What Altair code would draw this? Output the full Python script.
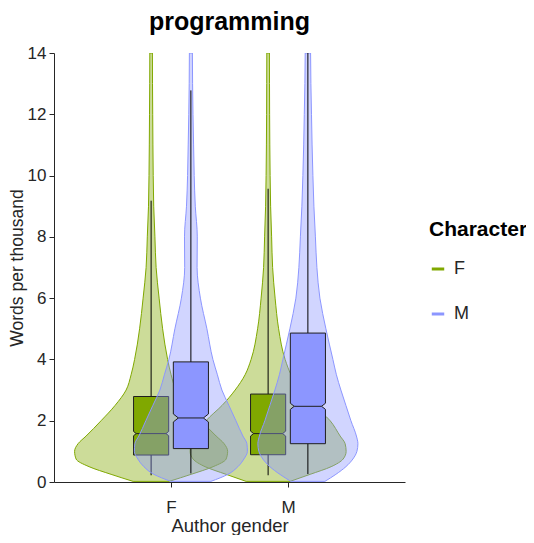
import altair as alt
import pandas as pd

TITLE = "programming"
authors = ["F", "M"]
characters = ["F", "M"]
colors = ["#80A800", "#8C96FF"]

# violin outlines: density at these word rates
y_grid = [0.02, 0.25, 0.5, 0.75, 1.0, 1.25, 1.5, 2.0, 2.5, 3.0, 3.5, 4.0,
          5.0, 6.0, 7.0, 8.0, 9.0, 10.0, 11.0, 12.0, 13.0, 14.0]
dens_f_f = [0.18, 0.40, 0.62, 0.75, 0.765, 0.73, 0.65, 0.50, 0.36, 0.25, 0.20,
            0.165, 0.115, 0.08, 0.05, 0.038, 0.026, 0.021, 0.018, 0.016, 0.014, 0.013]
dens_f_m = [0.20, 0.37, 0.47, 0.53, 0.565, 0.56, 0.52, 0.45, 0.38, 0.31, 0.265,
            0.22, 0.16, 0.095, 0.062, 0.064, 0.044, 0.033, 0.027, 0.021, 0.017, 0.015]
dens_m_f = [0.22, 0.42, 0.63, 0.75, 0.78, 0.77, 0.72, 0.62, 0.46, 0.33, 0.23,
            0.17, 0.105, 0.07, 0.045, 0.035, 0.025, 0.02, 0.017, 0.015, 0.014, 0.013]
dens_m_m = [0.17, 0.28, 0.38, 0.45, 0.49, 0.50, 0.485, 0.43, 0.38, 0.33, 0.285,
            0.25, 0.18, 0.12, 0.09, 0.075, 0.06, 0.05, 0.042, 0.036, 0.03, 0.027]

# box statistics, order (author, character): FF, FM, MF, MM
groups = [("F", "F"), ("F", "M"), ("M", "F"), ("M", "M")]
q1 = [0.88, 1.09, 0.89, 1.25]
median = [1.58, 2.09, 1.58, 2.47]
q3 = [2.79, 3.92, 2.87, 4.86]
whisker_lo = [0.22, 0.28, 0.22, 0.26]
whisker_hi = [9.18, 12.78, 9.57, 14.0]  # last one runs off the top
notch = [0.07, 0.13, 0.08, 0.10]

DODGE = 0.17
BOX_HALF = 0.15
VIOLIN_SCALE = 0.855
NOTCH_SLOPE = 0.33
WIDTH, HEIGHT = 351, 429
FONT = "Liberation Sans"
INK = "#262626"


def _center(author, character):
    return authors.index(author) + 1 + (DODGE if character == "M" else -DODGE)


violin_rows, box_rows, whisker_rows, median_rows = [], [], [], []
densities = [dens_f_f, dens_f_m, dens_m_f, dens_m_m]
for i, (a, c) in enumerate(groups):
    cx = _center(a, c)
    for y, d in zip(y_grid, densities[i]):
        violin_rows.append({"author": a, "character": c, "y": y,
                            "lo": cx - d * VIOLIN_SCALE, "hi": cx + d * VIOLIN_SCALE})
    depth = notch[i] * NOTCH_SLOPE
    outline = [(q1[i], BOX_HALF), (median[i] - notch[i], BOX_HALF),
               (median[i], BOX_HALF - depth), (median[i] + notch[i], BOX_HALF),
               (q3[i], BOX_HALF)]
    for y, hw in outline:
        box_rows.append({"author": a, "character": c, "y": y,
                         "lo": cx - hw, "hi": cx + hw})
    whisker_rows.append({"author": a, "character": c, "x": cx,
                         "lo": whisker_lo[i], "hi": whisker_hi[i]})
    median_rows.append({"author": a, "character": c, "y": median[i],
                        "lo": cx - BOX_HALF + depth, "hi": cx + BOX_HALF - depth})

violins = pd.DataFrame(violin_rows)
boxes = pd.DataFrame(box_rows)
whiskers = pd.DataFrame(whisker_rows)
medians = pd.DataFrame(median_rows)

x_scale = alt.Scale(domain=[0, 3], nice=False, zero=False)
y_scale = alt.Scale(domain=[0, 14], nice=False)
x_axis = alt.Axis(
    values=[1, 2],
    labelExpr=f"{authors}[datum.value - 1]",
    title="Author gender",
    labelPadding=12,
    titlePadding=1,
)
y_axis = alt.Axis(
    values=list(range(0, 15, 2)),
    title="Words per thousand",
    titleFontSize=17.5,
    labelPadding=3,
    titlePadding=1,
)
color_scale = alt.Scale(domain=characters, range=colors)
legend = alt.Legend(
    title="Character",
    orient="none",
    legendX=375,
    legendY=166,
    symbolType="stroke",
    symbolStrokeWidth=3,
    symbolSize=155,
    symbolOpacity=1,
    labelOffset=7,
    rowPadding=27,
    titlePadding=20,
    titleFontSize=21,
    titleFontWeight="bold",
    titleColor="black",
    labelFontSize=18,
    labelColor=INK,
    titleFont=FONT,
    labelFont=FONT,
)

layers = []
for c, col in zip(characters, colors):
    v = alt.Chart(violins[violins.character == c]).mark_area(
        orient="horizontal",
        interpolate="monotone",
        fillOpacity=0.4,
        strokeWidth=1,
        clip=True,
    ).encode(
        y=alt.Y("y:Q", scale=y_scale, axis=y_axis),
        x=alt.X("lo:Q", scale=x_scale, axis=x_axis, stack=None),
        x2="hi:Q",
        fill=alt.Fill("character:N", scale=color_scale, legend=legend),
        stroke=alt.Stroke("character:N", scale=color_scale, legend=legend),
        detail="author:N",
    )
    w = alt.Chart(whiskers[whiskers.character == c]).mark_rule(
        color="black", strokeWidth=1, clip=True
    ).encode(
        x=alt.X("x:Q", scale=x_scale, axis=x_axis),
        y=alt.Y("lo:Q", scale=y_scale, axis=y_axis),
        y2="hi:Q",
    )
    b = alt.Chart(boxes[boxes.character == c]).mark_area(
        orient="horizontal",
        fill=col,
        fillOpacity=1,
        stroke="#1f1f1f",
        strokeWidth=1,
    ).encode(
        y=alt.Y("y:Q", scale=y_scale, axis=y_axis),
        x=alt.X("lo:Q", scale=x_scale, axis=x_axis, stack=None),
        x2="hi:Q",
        detail="author:N",
    )
    m = alt.Chart(medians[medians.character == c]).mark_rule(
        color="#1f1f1f", strokeWidth=1
    ).encode(
        x=alt.X("lo:Q", scale=x_scale, axis=x_axis),
        x2="hi:Q",
        y=alt.Y("y:Q", scale=y_scale, axis=y_axis),
    )
    layers += [v, w, b, m]

# chart title as a text mark centred over the plot area
title = alt.Chart(pd.DataFrame({"t": [TITLE]})).mark_text(
    font=FONT,
    fontSize=25,
    fontWeight="bold",
    color="black",
    align="center",
    baseline="alphabetic",
).encode(
    text="t:N",
    x=alt.value(WIDTH / 2),
    y=alt.value(-23),
)
layers.append(title)

chart = alt.layer(*layers).properties(
    width=WIDTH,
    height=HEIGHT,
    padding={"left": 46, "top": 45, "right": 121, "bottom": 53},
    autosize=alt.AutoSizeParams(type="none"),
).configure_view(
    stroke=None
).configure_axis(
    grid=False,
    domainColor=INK,
    tickColor=INK,
    labelColor=INK,
    titleColor=INK,
    labelFont=FONT,
    titleFont=FONT,
    labelFontSize=17,
    titleFontSize=18.5,
    titleFontWeight="normal",
    tickSize=5,
)

chart.save("out.html", embed_options={"renderer": "svg", "actions": False})
